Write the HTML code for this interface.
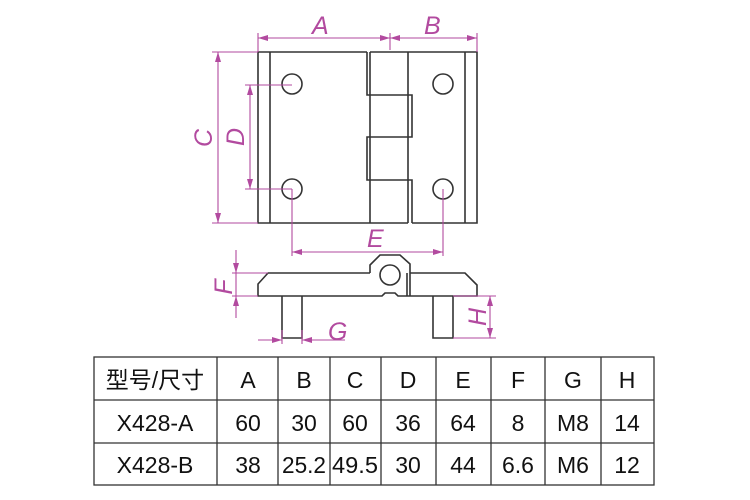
<!DOCTYPE html>
<html><head><meta charset="utf-8"><style>
html,body{margin:0;padding:0;background:#fff;width:750px;height:500px;overflow:hidden}
svg{display:block}
.l{stroke:#333;stroke-width:1.6;fill:none}
.m{stroke:#b24a9f;stroke-width:1.1;fill:none}
.t{fill:#b24a9f;font-family:"Liberation Sans",sans-serif;font-style:italic;font-size:25px;font-weight:normal}
.c{font-family:"Liberation Sans","Noto Sans CJK SC",sans-serif;font-size:23px;fill:#111;text-anchor:middle}
</style></head><body>
<svg width="750" height="500" viewBox="0 0 750 500" xmlns="http://www.w3.org/2000/svg">
<defs>
<marker id="a" viewBox="0 0 10 6" refX="10" refY="3" markerWidth="10" markerHeight="6" orient="auto-start-reverse" markerUnits="userSpaceOnUse"><path d="M0,0 L10,3 L0,6 z" fill="#b24a9f"/></marker>
</defs>
<g class="l">
<path d="M367,52 H258 V223 H370"/>
<line x1="270" y1="52" x2="270" y2="223"/>
<path d="M367,52 V95 H412 V137 H367 V180 H412 V223"/>
<line x1="370" y1="52" x2="370" y2="223"/>
<line x1="408" y1="52" x2="408" y2="223"/>
<path d="M370,52 H477 V223 H412"/>
<line x1="465" y1="52" x2="465" y2="223"/>
<line x1="370" y1="223" x2="408" y2="223"/>
<circle cx="292" cy="84" r="10"/><circle cx="292" cy="189" r="10"/>
<circle cx="443" cy="84" r="10"/><circle cx="443" cy="189" r="10"/>
</g>
<g class="m">
<line x1="258" y1="33" x2="258" y2="52"/><line x1="390" y1="33" x2="390" y2="50"/><line x1="477" y1="33" x2="477" y2="52"/>
<line x1="258" y1="38" x2="390" y2="38" marker-start="url(#a)" marker-end="url(#a)"/>
<line x1="390" y1="38" x2="477" y2="38" marker-start="url(#a)" marker-end="url(#a)"/>
<line x1="212" y1="52" x2="258" y2="52"/><line x1="212" y1="223" x2="258" y2="223"/>
<line x1="218" y1="52" x2="218" y2="223" marker-start="url(#a)" marker-end="url(#a)"/>
<line x1="245" y1="85" x2="292" y2="85"/><line x1="245" y1="189" x2="292" y2="189"/>
<line x1="250" y1="85" x2="250" y2="189" marker-start="url(#a)" marker-end="url(#a)"/>
<line x1="292" y1="189" x2="292" y2="256"/><line x1="443" y1="189" x2="443" y2="256"/>
<line x1="292" y1="252" x2="443" y2="252" marker-start="url(#a)" marker-end="url(#a)"/>
</g>
<text class="t" x="312" y="34">A</text>
<text class="t" x="424" y="34">B</text>
<text class="t" x="367" y="247" font-size="24">E</text>
<text class="t" transform="translate(212,138) rotate(-90)" text-anchor="middle">C</text>
<text class="t" transform="translate(244,137) rotate(-90)" text-anchor="middle">D</text>
<g class="l">
<path d="M370,273 H268 L258,284 V296 H382 L385,293 H395 L398,296 H410"/>
<path d="M370,273 V265 L380,255 H400 L410,264 V296"/>
<path d="M410,273 H465 L477,285 V296 H410"/>
<line x1="407" y1="273" x2="407" y2="296"/>
<circle cx="390" cy="275" r="10"/>
<path d="M282,296 V338 H302 V296"/>
<path d="M433,296 V338 H453 V296"/>
</g>
<g class="m">
<line x1="232" y1="273" x2="268" y2="273"/><line x1="232" y1="296" x2="258" y2="296"/>
<line x1="236" y1="250" x2="236" y2="273" marker-end="url(#a)"/>
<line x1="236" y1="318" x2="236" y2="296" marker-end="url(#a)"/>
<line x1="236" y1="273" x2="236" y2="296"/>
<line x1="282" y1="330" x2="282" y2="344"/><line x1="302" y1="330" x2="302" y2="344"/>
<line x1="258" y1="340" x2="282" y2="340" marker-end="url(#a)"/>
<line x1="345" y1="340" x2="302" y2="340" marker-end="url(#a)"/>
<line x1="453" y1="296" x2="496" y2="296"/><line x1="453" y1="338" x2="496" y2="338"/>
<line x1="490" y1="296" x2="490" y2="338" marker-start="url(#a)" marker-end="url(#a)"/>
</g>
<text class="t" transform="translate(232,287) rotate(-90)" text-anchor="middle" font-size="22">F</text>
<text class="t" x="328" y="340">G</text>
<text class="t" transform="translate(486,317) rotate(-90)" text-anchor="middle" font-size="24">H</text>
<g stroke="#333" stroke-width="1.3" fill="none">
<rect x="94" y="357" width="560" height="128"/>
<line x1="94" y1="400" x2="654" y2="400"/><line x1="94" y1="443" x2="654" y2="443"/>
<line x1="217" y1="357" x2="217" y2="485"/><line x1="278" y1="357" x2="278" y2="485"/>
<line x1="330" y1="357" x2="330" y2="485"/><line x1="381" y1="357" x2="381" y2="485"/>
<line x1="436" y1="357" x2="436" y2="485"/><line x1="491" y1="357" x2="491" y2="485"/>
<line x1="545" y1="357" x2="545" y2="485"/><line x1="601" y1="357" x2="601" y2="485"/>
</g>
<g class="c">
<text x="155" y="388">型号/尺寸</text><text x="248" y="388">A</text><text x="304" y="388">B</text><text x="355" y="388">C</text><text x="408" y="388">D</text><text x="463" y="388">E</text><text x="518" y="388">F</text><text x="573" y="388">G</text><text x="627" y="388">H</text>
<text x="155" y="431">X428-A</text><text x="248" y="431">60</text><text x="304" y="431">30</text><text x="355" y="431">60</text><text x="408" y="431">36</text><text x="463" y="431">64</text><text x="518" y="431">8</text><text x="573" y="431">M8</text><text x="627" y="431">14</text>
<text x="155" y="473">X428-B</text><text x="248" y="473">38</text><text x="304" y="473" textLength="44" lengthAdjust="spacingAndGlyphs">25.2</text><text x="355" y="473" textLength="46" lengthAdjust="spacingAndGlyphs">49.5</text><text x="408" y="473">30</text><text x="463" y="473">44</text><text x="518" y="473">6.6</text><text x="573" y="473">M6</text><text x="627" y="473">12</text>
</g>
</svg>
</body></html>
